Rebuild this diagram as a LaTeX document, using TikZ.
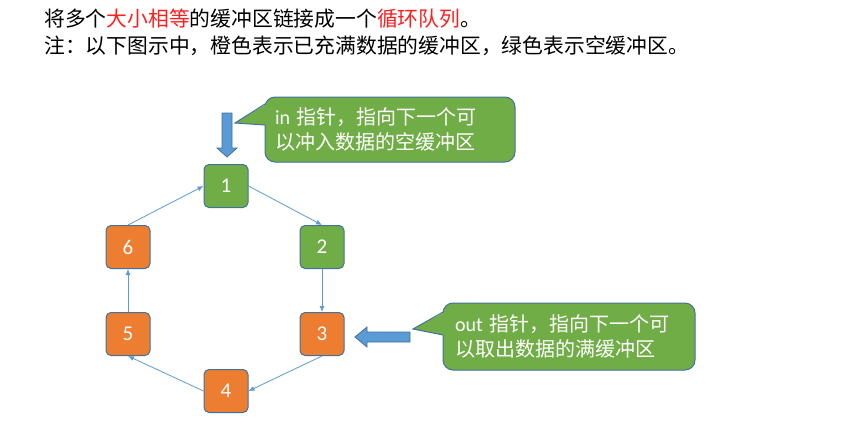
\documentclass[tikz,border=0pt]{standalone}
\usepackage{fontspec}
\newfontfamily\cjk{Noto Sans CJK SC}
\newfontfamily\numfont{Carlito}
\usetikzlibrary{arrows.meta,positioning}
\definecolor{BufGreen}{RGB}{112,173,71}
\definecolor{BufOrange}{RGB}{237,125,49}
\definecolor{EdgeBlue}{RGB}{65,113,156}
\definecolor{LinkBlue}{RGB}{91,155,213}
\definecolor{NoteRed}{RGB}{255,30,30}

\tikzset{
  buf/.style={draw=EdgeBlue, line width=1pt, rounded corners=5pt, minimum width=44pt,
    minimum height=43pt, inner sep=0pt, text=white, font=\numfont\fontsize{21}{21}\selectfont},
  fullbuf/.style={buf, fill=BufOrange},
  emptybuf/.style={buf, fill=BufGreen},
  link/.style={-{Latex[length=6pt,width=5pt]}, LinkBlue, line width=0.8pt},
  note/.style={draw=EdgeBlue, fill=BufGreen, line width=1pt, rounded corners=10pt,
    inner ysep=0pt, align=left, text=white, font=\cjk\fontsize{20}{24.5}\selectfont},
  headline/.style={anchor=west, inner sep=0pt, font=\cjk\fontsize{20.8}{27}\selectfont},
  blockarrow/.style={fill=LinkBlue, draw=EdgeBlue, line width=0.8pt},
}

\begin{document}
\begin{tikzpicture}[x=1pt,y=-1pt]
  \useasboundingbox (0,0) rectangle (842,445);
  % heading
  \node[headline] (head1) at (44,19) {将多个\textcolor{NoteRed}{大小相等}的缓冲区链接成一个\textcolor{NoteRed}{循环队列}。};
  \node[headline] (head2) at (44,46) {注：以下图示中，橙色表示已充满数据的缓冲区，绿色表示空缓冲区。};
  % ring of buffers
  \node[emptybuf] (b1) at (226,186) {1};
  \node[emptybuf] (b2) at (322,247) {2};
  \node[fullbuf] (b3) at (322,334) {3};
  \node[fullbuf] (b4) at (226,391) {4};
  \node[fullbuf] (b5) at (128,334) {5};
  \node[fullbuf] (b6) at (128,247) {6};
  \draw[link] (b1.east) -- (b2.north);
  \draw[link] (b2.south) -- (b3.north);
  \draw[link] (b3.south) -- (b4.east);
  \draw[link] (b4.west) -- (b5.south);
  \draw[link] (b5.north) -- (b6.south);
  \draw[link] (b6.north) -- (b1.west);
  % in pointer
  \node[note, minimum height=65pt, text width=230pt, inner xsep=10pt] (innote) at (390,129.5)
    {{\numfont in} 指针，指向下一个可\\以冲入数据的空缓冲区};
  \coordinate (intip) at (235,123);
  \fill[BufGreen] (266.5,104) -- (intip) -- (266.5,125) -- cycle;
  \draw[EdgeBlue, line width=1pt] (265,104) -- (intip) -- (265,125);
  \draw[blockarrow] (222,113) -- (232,113) -- (232,148) -- (237,148) -- (227,157)
    -- (217,148) -- (222,148) -- cycle;
  % out pointer
  \node[note, minimum height=67pt, text width=228pt, inner xsep=12pt] (outnote) at (569,336.5)
    {{\numfont out} 指针，指向下一个可\\以取出数据的满缓冲区};
  \coordinate (outtip) at (413,329);
  \fill[BufGreen] (444.5,312) -- (outtip) -- (444.5,335) -- cycle;
  \draw[EdgeBlue, line width=1pt] (443,312) -- (outtip) -- (443,335);
  \draw[blockarrow] (410,332) -- (367,332) -- (367,327) -- (355,337) -- (367,347)
    -- (367,342) -- (410,342) -- cycle;
\end{tikzpicture}
\end{document}
